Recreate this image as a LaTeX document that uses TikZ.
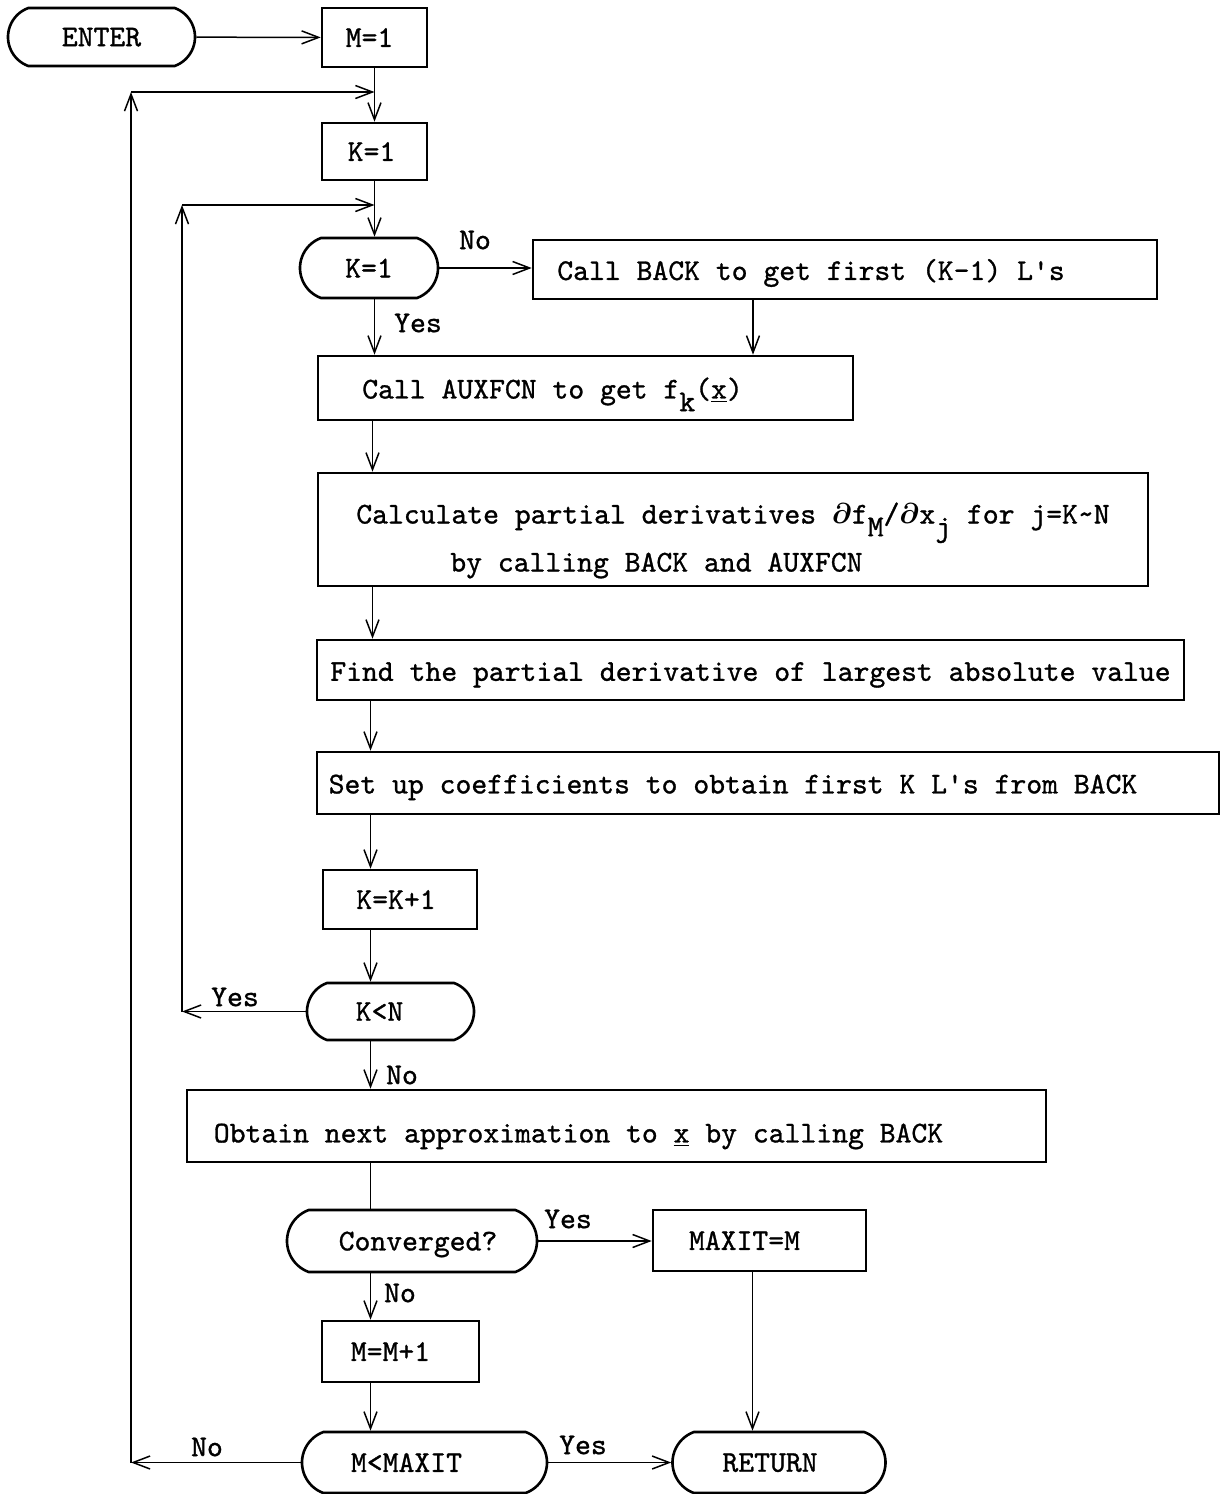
\documentclass[tikz,border=0pt]{standalone}
\usepackage{fontspec}
\setmonofont{lmmono10-regular.otf}[FakeBold=1]
\usetikzlibrary{shapes.misc,arrows.meta}
% lowered index written at full size, typewriter style
\newcommand{\lowsub}[1]{\raisebox{-0.42em}{#1}}
% bold partial sign to match the typewriter weight
\newcommand{\pd}{{\boldmath$\partial$}}
\begin{document}
\begin{tikzpicture}[x=0.5pt,y=-0.5pt,
  every node/.style={font=\ttfamily\fontsize{15.1pt}{24pt}\selectfont},
  box/.style={draw, line width=1.3pt, rectangle, inner sep=0pt, text depth=0pt},
  term/.style={draw, line width=1.3pt, rounded rectangle, rounded rectangle arc length=140, inner sep=0pt, text depth=0pt},
  flow/.style={line width=0.75pt, -{Straight Barb[length=8.5pt,width=6.5pt]}},
  link/.style={line width=0.75pt},
  tag/.style={inner sep=0pt}]
\useasboundingbox (0,0) rectangle (1221,1494);

% ---- blocks ----
\node[term, minimum width=93.5pt, minimum height=29pt] (enter) at (101.5,37) {ENTER};
\node[box, minimum width=52.5pt, minimum height=29.5pt] (m1) at (374.5,37.5) {M=1\kern5pt};
\node[box, minimum width=52.5pt, minimum height=28.5pt] (k1) at (374.5,151.5) {K=1\kern3pt};
\node[term, minimum width=69pt, minimum height=30pt] (dk1) at (369,268) {K=1};
\node[box, minimum width=312pt, minimum height=29.5pt] (back) at (845,269.5) {Call BACK to get first (K-1) L's\kern34pt};
\node[box, minimum width=267.5pt, minimum height=32pt] (aux) at (585.5,388) {Call AUXFCN to get f\lowsub{k}(\underline{x})\kern33pt};
\node[box, minimum width=415pt, minimum height=56.5pt, align=left] (calc) at (733,529.5)
  {\rule{0pt}{18pt}Calculate partial derivatives \pd f\lowsub{M}/\pd x\lowsub{j} for j=K\textasciitilde N\\\hspace*{47pt}by calling BACK and AUXFCN};
\node[box, minimum width=433.5pt, minimum height=30pt] (find) at (750.5,670) {\raisebox{-1.5pt}{Find the partial derivative of largest absolute value}};
\node[box, minimum width=451pt, minimum height=31pt] (setup) at (768,783) {\raisebox{-1pt}{Set up coefficients to obtain first K L's from BACK}\kern35pt};
\node[box, minimum width=77pt, minimum height=29.5pt] (kk1) at (400,899.5) {K=K+1\kern4pt};
\node[term, minimum width=83.5pt, minimum height=28.5pt] (dkn) at (390.5,1011.5) {K<N\kern11pt};
\node[box, minimum width=429.5pt, minimum height=36pt] (obtain) at (616.5,1126) {\raisebox{-7pt}{Obtain next approximation to \underline{x} by calling BACK}\kern38pt};
\node[term, minimum width=125pt, minimum height=31pt] (conv) at (412,1241) {\kern6pt Converged?};
\node[box, minimum width=106.5pt, minimum height=30.5pt] (maxit) at (759.5,1240.5) {MAXIT=M\kern15pt};
\node[box, minimum width=78.5pt, minimum height=30.5pt] (mm1) at (400.5,1351.5) {M=M+1\kern10pt};
\node[term, minimum width=122.5pt, minimum height=30.5pt] (dmm) at (424.5,1462.5) {M<MAXIT\kern18pt};
\node[term, minimum width=106.5pt, minimum height=30.5pt] (ret) at (779,1462.5) {RETURN\kern9pt};

% ---- helper points ----
\coordinate (spU) at (374.5,0);
\coordinate (spM) at (372.5,0);
\coordinate (spL) at (370.5,0);
\coordinate (oL) at (131,1462.5);
\coordinate (oT) at (131,92);
\coordinate (oJ) at (374.5,92);
\coordinate (iL) at (182,1011.5);
\coordinate (iT) at (182,205);
\coordinate (iJ) at (374.5,205);

% ---- connectors ----
\draw[flow] (enter) -- (m1);
\draw[flow] (m1) -- (k1);
\draw[flow] (dmm.west) -- (oL);
\draw[flow] (oL) -- (oT);
\draw[flow] (oT) -- (oJ);
\draw[flow] (k1) -- (k1 |- dk1.north);
\draw[flow] (dkn.west) -- (iL);
\draw[flow] (iL) -- (iT);
\draw[flow] (iT) -- (iJ);
\draw[flow] (dk1.east) -- (dk1.east -| back.west);
\draw[flow] ([xshift=-46pt]back.south) -- ([xshift=-46pt]back.south |- aux.north);
\draw[flow] (dk1.south -| spU) -- (spU |- aux.north);
\draw[flow] (aux.south -| spM) -- (spM |- calc.north);
\draw[flow] (calc.south -| spM) -- (spM |- find.north);
\draw[flow] (find.south -| spL) -- (spL |- setup.north);
\draw[flow] (setup.south -| spL) -- (spL |- kk1.north);
\draw[flow] (kk1.south -| spL) -- (spL |- dkn.north);
\draw[flow] (dkn.south -| spL) -- (spL |- obtain.north);
\draw[link] (obtain.south -| spL) -- (spL |- conv.north);
\draw[flow] (conv.east) -- (conv.east -| maxit.west);
\draw[flow] ([xshift=-3.5pt]maxit.south) -- ([xshift=-3.5pt]maxit.south |- ret.north);
\draw[flow] (conv.south -| spL) -- (spL |- mm1.north);
\draw[flow] (mm1.south -| spL) -- (spL |- dmm.north);
\draw[flow] (dmm.east) -- (dmm.east -| ret.west);

% ---- branch labels ----
\node[tag] (lno1) at (475,240) {No};
\node[tag] (lyes1) at (418,323) {Yes};
\node[tag] (lyes2) at (235,997) {Yes};
\node[tag] (lno2) at (402,1075) {No};
\node[tag] (lyes3) at (568,1219) {Yes};
\node[tag] (lno3) at (400,1293) {No};
\node[tag] (lyes4) at (583,1445) {Yes};
\node[tag] (lno4) at (207,1447) {No};
\end{tikzpicture}
\end{document}
